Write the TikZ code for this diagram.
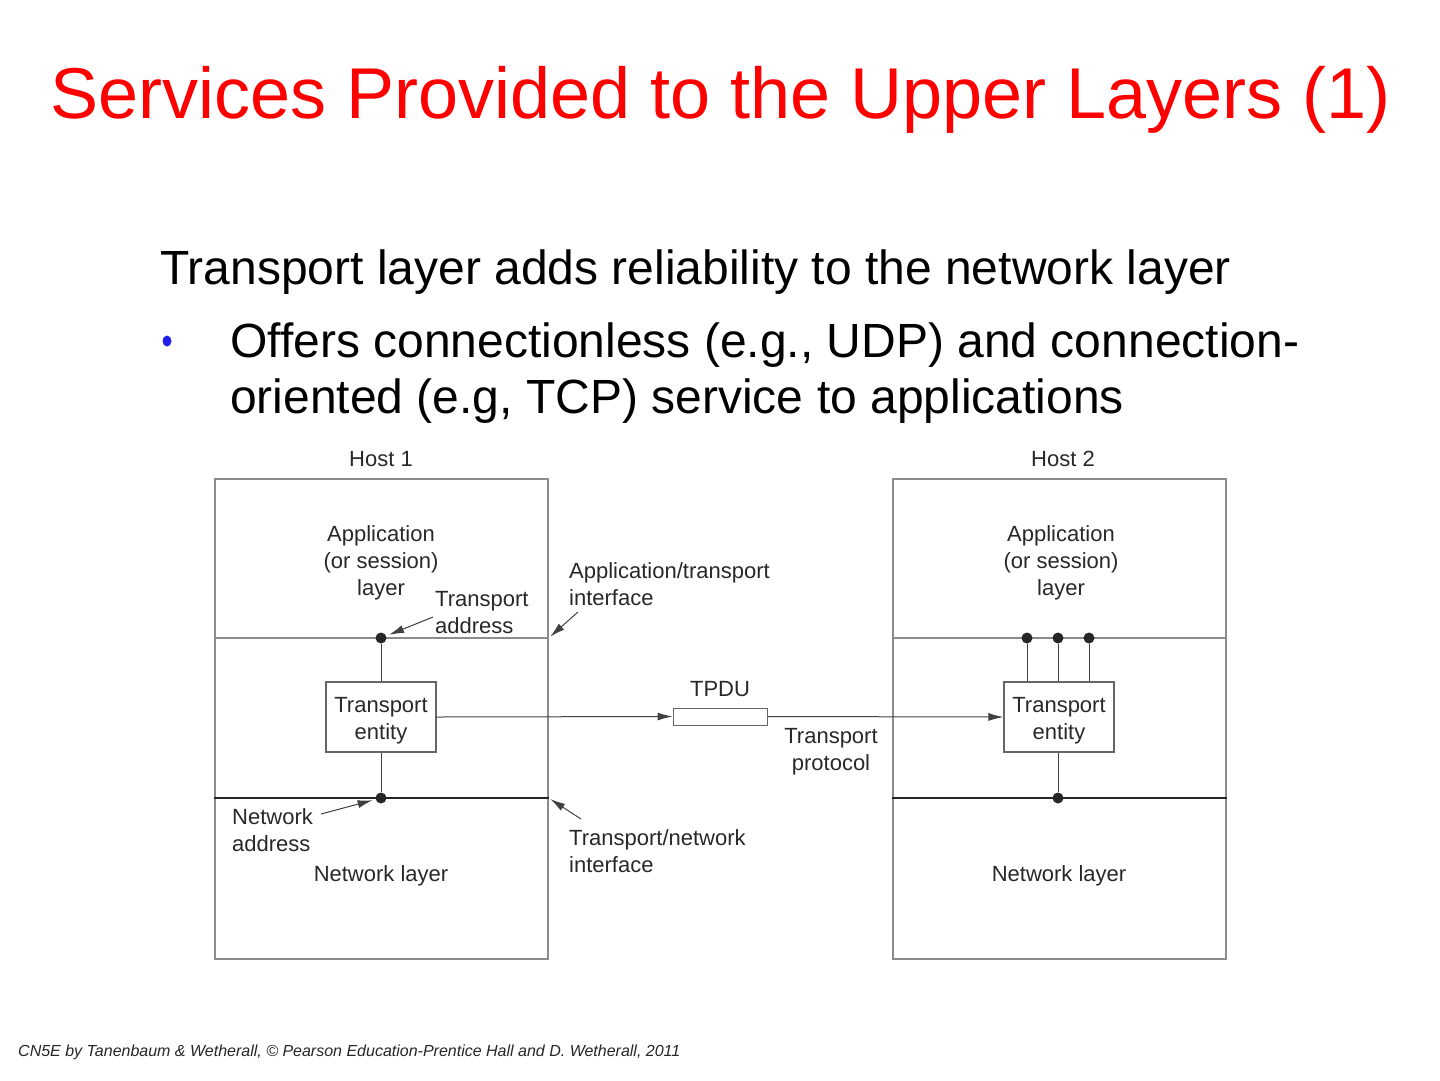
\documentclass[tikz,border=0pt]{standalone}
\usepackage{fontspec}
\setmainfont{Liberation Sans}
\usetikzlibrary{arrows.meta,shapes.geometric}
\definecolor{titlered}{RGB}{255,0,0}
\definecolor{bulletblue}{RGB}{30,30,230}
\definecolor{ink}{RGB}{40,40,40}
\begin{document}
\begin{tikzpicture}[x=1pt,y=-1pt,
  lbl/.style={font=\fontsize{22}{27}\selectfont, text=ink, inner sep=0pt, align=center},
  lbll/.style={lbl, align=left},
  hostbox/.style={draw=black!45, line width=1.3pt, minimum width=333pt, minimum height=480pt, inner sep=0pt},
  entbox/.style={lbl, draw=black!60, line width=1.1pt, minimum width=110pt, minimum height=70pt},
  pdubox/.style={draw=black!60, line width=1pt, minimum width=94pt, minimum height=17pt, inner sep=0pt},
  thinline/.style={draw=black!45, line width=1.1pt},
  netline/.style={draw=black!85, line width=2.4pt},
  conn/.style={draw=black!75, line width=1pt},
  tipped/.style={-{Latex[length=15pt,width=8pt]}},
  dotc/.style={circle, fill=black!85, minimum size=11pt, inner sep=0pt},
  bodytext/.style={font=\fontsize{48}{56}\selectfont, inner sep=0pt, anchor=base west},
]
\useasboundingbox (0,0) rectangle (1440,1080);

% title and body
\node[font=\fontsize{72}{80}\selectfont, text=titlered, inner sep=0pt, anchor=base west] (title) at (50,118) {Services Provided to the Upper Layers (1)};
\node[bodytext] (line1) at (160,284) {Transport layer adds reliability to the network layer};
\node[ellipse, fill=bulletblue, minimum width=9pt, minimum height=11pt, inner sep=0pt] (bul) at (167,341) {};
\node[bodytext] (line2) at (230,357) {Offers connectionless (e.g., UDP) and connection-};
\node[bodytext] (line3) at (230,413) {oriented (e.g, TCP) service to applications};

% hosts
\node[hostbox] (h1) at (381.5,719) {};
\node[hostbox] (h2) at (1059.5,719) {};
\node[lbl, anchor=base] (host1) at (381,466) {Host 1};
\node[lbl, anchor=base] (host2) at (1063,466) {Host 2};

\coordinate (ya) at (0,638);
\coordinate (yn) at (0,798);
\draw[thinline] (h1.west |- ya) -- (h1.east |- ya);
\draw[thinline] (h2.west |- ya) -- (h2.east |- ya);
\draw[netline] (h1.west |- yn) -- (h1.east |- yn);
\draw[netline] (h2.west |- yn) -- (h2.east |- yn);

% layer labels
\node[lbl] (app1) at (381,563) {Application\\(or session)\\layer};
\node[lbl] (app2) at (1061,563) {Application\\(or session)\\layer};
\node[lbl] (net1) at (381,876) {Network layer};
\node[lbl] (net2) at (1059,876) {Network layer};

% host 1 transport entity
\node[dotc] (ta1) at (381,638) {};
\node[dotc] (na1) at (381,798) {};
\node[entbox] (te1) at (381,717) {\rule{0pt}{22pt}Transport\\entity};
\draw[conn] (ta1) -- (te1.north);
\draw[conn] (te1.south) -- (na1);

% host 2 transport entity
\node[dotc] (tb1) at (1027,638) {};
\node[dotc] (tb2) at (1058,638) {};
\node[dotc] (tb3) at (1089,638) {};
\node[dotc] (nb1) at (1058,798) {};
\node[entbox] (te2) at (1059,717) {\rule{0pt}{22pt}Transport\\entity};
\draw[conn] (tb1) -- (tb1 |- te2.north);
\draw[conn] (tb2) -- (tb2 |- te2.north);
\draw[conn] (tb3) -- (tb3 |- te2.north);
\draw[conn] (te2.south -| nb1) -- (nb1);

% TPDU
\node[pdubox] (pdu) at (720,716.5) {};
\node[lbl] (pdulbl) at (720,689) {TPDU};
\draw[conn, tipped] (te1.east) -- (pdu.west);
\draw[conn, tipped] (pdu.east) -- (te2.west);
\node[lbl] (tproto) at (831,752) {Transport\\protocol};

% annotations
\node[lbll, anchor=west] (taddr) at (435,613) {Transport\\address};
\coordinate (taS) at (433,617);
\draw[conn, tipped, shorten >=3pt] (taS) -- (ta1);

\node[lbll, anchor=west] (atif) at (569,584) {Application/transport\\interface};
\coordinate (atS) at (578,612);
\draw[conn, tipped, shorten >=2pt] (atS) -- (h1.east |- ya);

\node[lbll, anchor=west] (tnif) at (569,851) {Transport/network\\interface};
\coordinate (tnS) at (581,819);
\draw[conn, tipped, shorten >=2pt] (tnS) -- (h1.east |- yn);

\node[lbll, anchor=west] (naddr) at (232,830) {Network\\address};
\coordinate (naS) at (321,814);
\draw[conn, tipped, shorten >=3pt] (naS) -- (na1);

% footer
\node[font=\fontsize{16}{19}\selectfont\itshape, text=black!85, inner sep=0pt, anchor=base west] (foot) at (18,1056) {CN5E by Tanenbaum \& Wetherall, © Pearson Education-Prentice Hall and D. Wetherall, 2011};
\end{tikzpicture}
\end{document}
